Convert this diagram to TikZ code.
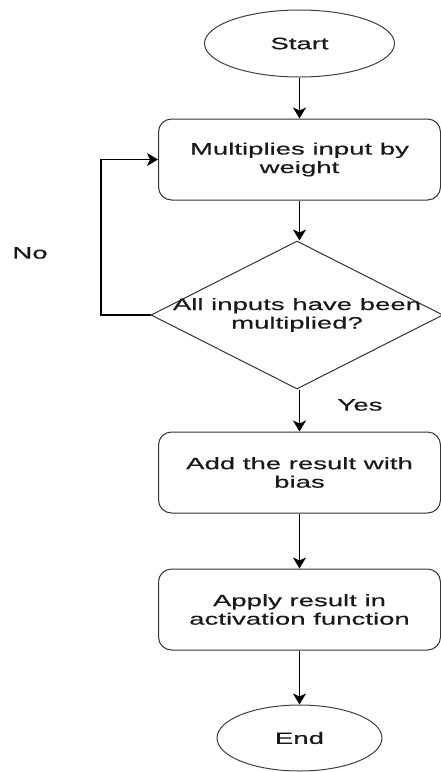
\documentclass[tikz,border=0pt]{standalone}
\usepackage{fontspec}
\setmainfont{Liberation Sans}[FakeStretch=1.67,FakeBold=0.5]
\usetikzlibrary{shapes.geometric,arrows.meta}
\begin{document}
\begin{tikzpicture}[x=1pt,y=-1pt,
  every node/.style={font=\fontsize{16.5}{18.5}\selectfont, text=black!90},
  terminal/.style={ellipse, draw=black!75, line width=1pt, inner sep=0pt},
  process/.style={rectangle, rounded corners=13pt, draw=black!80, line width=1pt,
    minimum width=282pt, minimum height=81pt, align=center, inner sep=0pt},
  decision/.style={diamond, draw=black!80, line width=1pt,
    minimum width=292pt, minimum height=148pt, inner sep=0pt},
  flow/.style={-{Stealth[width=13pt,length=11pt,inset=3pt]}, line width=1.8pt}]
\useasboundingbox (0,0) rectangle (441,772);

% terminals
\node[terminal, minimum width=190pt, minimum height=67pt] (start) at (299.5,43.5) {Start};
\node[terminal, minimum width=165pt, minimum height=66pt] (end) at (299.5,738) {End};

% process steps
\node[process] (mult) at (299.5,159.5) {Multiplies input by\\weight};
\node[process] (bias) at (299.5,472.5) {Add the result with\\bias};
\node[process] (act) at (299.5,609.5) {Apply result in\\activation function};

% decision
\node[decision] (check) at (297,315) {};
\node[align=center] (checktext) at (check.center) {All inputs have been\\multiplied?};

% labels
\node (no) at (30,253) {No};
\node (yes) at (360,405) {Yes};

% connectors (kept vertical on the common axis)
\draw[flow] (start.south) -- (mult.north);
\draw[flow] (mult.south) -- (mult.south |- check.north);
\draw[flow] (mult.south |- check.south) -- (bias.north);
\draw[flow] (bias.south) -- (act.north);
\draw[flow] (act.south) -- (end.north);
\coordinate (loop) at (101,315);
\draw[flow, line width=1.4pt] (check.west) -- (loop) |- (mult.west);
\end{tikzpicture}
\end{document}
